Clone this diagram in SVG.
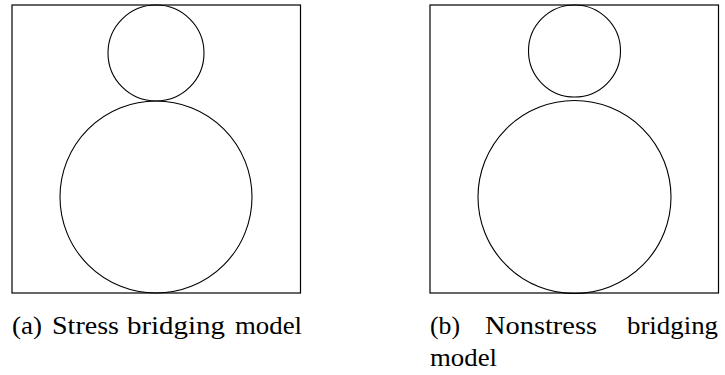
<svg xmlns="http://www.w3.org/2000/svg" width="725" height="375" viewBox="0 0 725 375">
<style>
.frame{fill:none;stroke:#000;stroke-width:1.2}
.c{fill:none;stroke:#000;stroke-width:1.1}
.t{font-family:'Liberation Serif','Times New Roman',serif;font-size:26px;fill:#000}
</style>
<rect width="725" height="375" fill="#fff"/>
<g id="panel-a">
<rect class="frame" x="12" y="5" width="288.5" height="288"/>
<circle class="c" cx="156" cy="53" r="48"/>
<circle class="c" cx="156" cy="197" r="96"/>
</g>
<g id="panel-b">
<rect class="frame" x="430" y="5" width="288.5" height="288"/>
<circle class="c" cx="574.5" cy="51" r="46"/>
<circle class="c" cx="574.5" cy="197" r="96.5"/>
</g>
<g id="connectors"></g>
<g id="caption-a">
<text class="t" x="12" y="334" textLength="30" lengthAdjust="spacingAndGlyphs">(a)</text>
<text class="t" x="52" y="334" textLength="67" lengthAdjust="spacingAndGlyphs">Stress</text>
<text class="t" x="127" y="334" textLength="98" lengthAdjust="spacingAndGlyphs">bridging</text>
<text class="t" x="235" y="334" textLength="67" lengthAdjust="spacingAndGlyphs">model</text>
</g>
<g id="caption-b">
<text class="t" x="430" y="334" textLength="30" lengthAdjust="spacingAndGlyphs">(b)</text>
<text class="t" x="485" y="334" textLength="112" lengthAdjust="spacingAndGlyphs">Nonstress</text>
<text class="t" x="627" y="334" textLength="91" lengthAdjust="spacingAndGlyphs">bridging</text>
<text class="t" x="430" y="366" textLength="67" lengthAdjust="spacingAndGlyphs">model</text>
</g>
</svg>
